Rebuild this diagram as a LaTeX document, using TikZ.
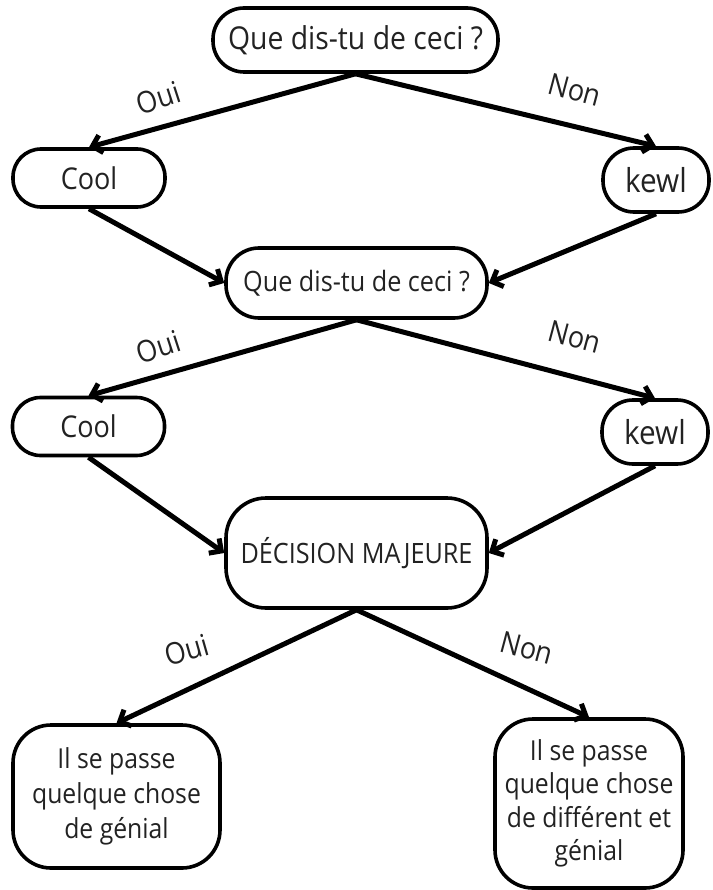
\documentclass[tikz,border=0pt]{standalone}
\usepackage{fontspec}
\setmainfont[FakeStretch=0.9]{Open Sans}
\usetikzlibrary{arrows.meta}
\definecolor{ink}{HTML}{222222}
\begin{document}
\begin{tikzpicture}[x=1pt,y=-1pt,
  box/.style={draw=black, line width=3.6pt, align=center, inner sep=0pt, text=ink,
    font=\fontsize{30}{35}\selectfont},
  conn/.style={line width=5pt, -{Straight Barb[length=9pt,width=18pt]}},
  lbl/.style={font=\fontsize{30}{32}\selectfont, text=ink, inner sep=0pt}]
\useasboundingbox (0,0) rectangle (712,890);

\node[box, minimum width=285pt, minimum height=64pt, rounded corners=31pt, font=\fontsize{31.5}{36}\selectfont] (q1) at (355.5,40) {Que dis-tu de ceci ?};
\node[box, minimum width=152pt, minimum height=58pt, rounded corners=28pt] (c1) at (89,178) {Cool};
\node[box, minimum width=106pt, minimum height=64pt, rounded corners=31pt, font=\fontsize{33}{36}\selectfont] (k1) at (656,180) {kewl};
\node[box, minimum width=261pt, minimum height=70pt, rounded corners=33pt, font=\fontsize{28}{33}\selectfont] (q2) at (356.5,283) {Que dis-tu de ceci ?};
\node[box, minimum width=152pt, minimum height=58pt, rounded corners=28pt] (c2) at (88.5,426.5) {Cool};
\node[box, minimum width=106pt, minimum height=64pt, rounded corners=31pt, font=\fontsize{33}{36}\selectfont] (k2) at (655,432) {kewl};
\node[box, minimum width=261pt, minimum height=110pt, rounded corners=40pt, font=\fontsize{28}{33}\selectfont] (dm) at (356.5,553) {DÉCISION MAJEURE};
\node[box, minimum width=207pt, minimum height=143pt, rounded corners=38pt, font=\fontsize{27.5}{35}\selectfont] (r1) at (116.5,796.5) {Il se passe\\quelque chose\\de génial};
\node[box, minimum width=188pt, minimum height=169pt, rounded corners=38pt, font=\fontsize{27.5}{33.5}\selectfont] (r2) at (589,803.5) {Il se passe\\quelque chose\\de différent et\\génial};

\draw[conn] (q1.south) -- (c1.north);
\draw[conn] (q1.south) -- (k1.north);
\draw[conn] (c1.south) -- (q2.west);
\draw[conn] (k1.south) -- (q2.east);
\draw[conn] (q2.south) -- (c2.north);
\draw[conn] (q2.south) -- (k2.north);
\draw[conn] (c2.south) -- (dm.west);
\draw[conn] (k2.south) -- (dm.east);
\draw[conn] (dm.south) -- (r1.north);
\draw[conn] (dm.south) -- (r2.north);

\node[lbl, rotate=18] (o1) at (158,98) {Oui};
\node[lbl, rotate=-15] (n1) at (575,90) {Non};
\node[lbl, rotate=18] (o2) at (158,347) {Oui};
\node[lbl, rotate=-15] (n2) at (575,337) {Non};
\node[lbl, rotate=16] (o3) at (187,650) {Oui};
\node[lbl, rotate=-15] (n3) at (527,648) {Non};
\end{tikzpicture}
\end{document}
